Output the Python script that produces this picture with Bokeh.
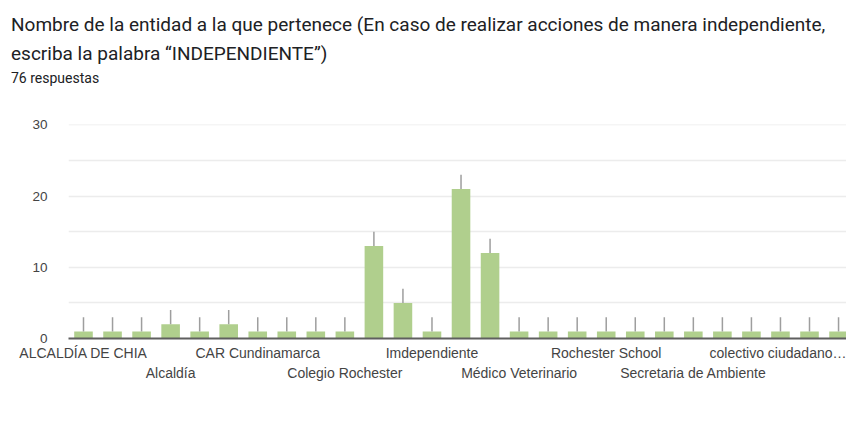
from bokeh.plotting import figure
from bokeh.models import Range1d, FixedTicker, LinearAxis, Div
from bokeh.layouts import column
from bokeh.embed import file_html
from bokeh.resources import INLINE

# ---- data ----
counts = [1, 1, 1, 2, 1, 2, 1, 1, 1, 1, 13, 5, 1, 21, 12,
          1, 1, 1, 1, 1, 1, 1, 1, 1, 1, 1, 1]
positions = list(range(1, len(counts) + 1))

row1_pos = [1, 7, 13, 19, 25]
row1_labels = ["ALCALDÍA DE CHIA", "CAR Cundinamarca", "Imdependiente",
               "Rochester School", "colectivo ciudadano…"]
row2_pos = [4, 10, 16, 22]
row2_labels = ["Alcaldía", "Colegio Rochester", "Médico Veterinario",
               "Secretaria de Ambiente"]

y_ticks = [0, 10, 20, 30]
grid_ticks = [5, 10, 15, 20, 25, 30]
stem = 2

title_line1 = ("Nombre de la entidad a la que pertenece (En caso de realizar "
               "acciones de manera independiente,")
title_line2 = "escriba la palabra “INDEPENDIENTE”)"
subtitle = "76 respuestas"

W = 846
HEAD_H = 110

# ---- header (title texts) ----
span = ('<span style="position:absolute;left:11px;top:{top}px;'
        'font-size:{size}px;line-height:1;white-space:nowrap;">{txt}</span>')
html = ('<div style="position:relative;width:{w}px;height:{h}px;'
        'font-family:Roboto;color:#202124;">'.format(w=W, h=HEAD_H)
        + span.format(top=15, size=19, txt=title_line1)
        + span.format(top=44, size=19, txt=title_line2)
        + span.format(top=71, size=14, txt=subtitle)
        + '</div>')
head = Div(text=html, width=W, height=HEAD_H, margin=0)

# ---- chart ----
p = figure(width=W, height=421 - HEAD_H,
           x_range=Range1d(0.4835, 27.274), y_range=Range1d(0, 30.05),
           output_backend="svg", toolbar_location=None,
           min_border_left=68, min_border_top=124 - HEAD_H,
           min_border_right=0, min_border_bottom=83)
p.outline_line_color = None

p.xgrid.visible = False
p.ygrid.ticker = FixedTicker(ticks=grid_ticks)
p.ygrid.grid_line_color = "#ececec"
p.ygrid.grid_line_width = 1.5

yax = p.yaxis[0]
yax.ticker = FixedTicker(ticks=y_ticks)
yax.axis_line_color = None
yax.major_tick_line_color = None
yax.minor_tick_line_color = None
yax.major_label_standoff = 15
yax.major_label_text_font = "Liberation Sans"
yax.major_label_text_font_size = "13.5px"
yax.major_label_text_color = "#444444"

xax = p.xaxis[0]
xax.ticker = FixedTicker(ticks=row1_pos)
xax.major_label_overrides = {pos: lab for pos, lab in zip(row1_pos, row1_labels)}
xax.axis_line_color = "#5f5f5f"
xax.axis_line_width = 2
xax.major_tick_line_color = None
xax.minor_tick_line_color = None
xax.major_label_standoff = 0
xax.major_label_text_font = "Liberation Sans"
xax.major_label_text_font_size = "14px"
xax.major_label_text_color = "#444444"

ax2 = LinearAxis(ticker=FixedTicker(ticks=row2_pos),
                 major_label_overrides={pos: lab for pos, lab in zip(row2_pos, row2_labels)},
                 axis_line_color=None, major_tick_line_color=None,
                 minor_tick_line_color=None, major_label_standoff=-5,
                 major_label_text_font="Liberation Sans",
                 major_label_text_font_size="14px",
                 major_label_text_color="#444444")
p.add_layout(ax2, "below")

p.vbar(x=positions, top=counts, bottom=0, width=0.64,
       fill_color="#b0cf8d", line_color=None)
p.segment(x0=positions, y0=counts, x1=positions,
          y1=[c + stem for c in counts],
          line_color="#9e9e9e", line_width=1.5)

layout = column(head, p, spacing=0)
open("out.html", "w").write(file_html(layout, INLINE))
